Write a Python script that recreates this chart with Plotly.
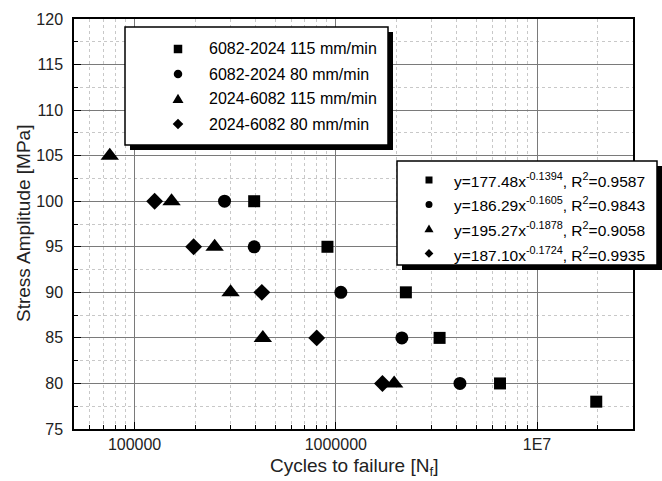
import plotly.graph_objects as go

# ---------------- data ----------------
series_names = ["6082-2024 115 mm/min", "6082-2024 80 mm/min",
                "2024-6082 115 mm/min", "2024-6082 80 mm/min"]
series_symbols = ["square", "circle", "triangle-up", "diamond"]

s1_cycles = [393000, 909000, 2230000, 3280000, 6550000, 19700000]
s1_stress = [100, 95, 90, 85, 80, 78]
s2_cycles = [280000, 393000, 1060000, 2130000, 4140000]
s2_stress = [100, 95, 90, 85, 80]
s3_cycles = [75300, 152700, 250000, 300000, 434000, 1950000]
s3_stress = [105, 100, 95, 90, 85, 80]
s4_cycles = [125800, 196600, 429000, 804000, 1706000]
s4_stress = [100, 95, 90, 85, 80]

fit_labels = [
    "y=177.48x<sup>-0.1394</sup>, R<sup>2</sup>=0.9587",
    "y=186.29x<sup>-0.1605</sup>, R<sup>2</sup>=0.9843",
    "y=195.27x<sup>-0.1878</sup>, R<sup>2</sup>=0.9058",
    "y=187.10x<sup>-0.1724</sup>, R<sup>2</sup>=0.9935",
]

x_tickvals = [1e5, 1e6, 1e7]
x_ticktext = ["100000", "1000000", "1E7"]
x_minor = [m * 10 ** e for e in range(4, 8) for m in range(2, 10)]
y_tickvals = [75, 80, 85, 90, 95, 100, 105, 110, 115, 120]

# ---------------- geometry ----------------
W, H = 662, 481
L, R, T, B = 74, 633, 19, 429
FONT = "Liberation Sans, Arial, sans-serif"


def px(x):
    return (x - L) / (R - L)


def py(y):
    return (B - y) / (B - T)


fig = go.Figure()
xs = [s1_cycles, s2_cycles, s3_cycles, s4_cycles]
ys = [s1_stress, s2_stress, s3_stress, s4_stress]
sizes = [12, 13, 16, 13]
for name, sym, x, y, s in zip(series_names, series_symbols, xs, ys, sizes):
    fig.add_trace(go.Scatter(x=x, y=y, mode="markers", name=name,
                             marker=dict(symbol=sym, size=s, color="black"),
                             cliponaxis=False, showlegend=False))

shapes = []
annotations = []


def box(x0, y0, x1, y1, off=5):
    shapes.append(dict(type="rect", xref="paper", yref="paper",
                       x0=px(x0 + off), x1=px(x1 + off), y0=py(y1 + off), y1=py(y0 + off),
                       fillcolor="black", line=dict(width=0), layer="above"))
    shapes.append(dict(type="rect", xref="paper", yref="paper",
                       x0=px(x0), x1=px(x1), y0=py(y1), y1=py(y0),
                       fillcolor="white", line=dict(color="black", width=1.5), layer="above"))


def marker(sym, cx, cy, s):
    h = s / 2
    if sym == "square":
        shapes.append(dict(type="rect", xref="paper", yref="paper",
                           x0=px(cx - h), x1=px(cx + h), y0=py(cy + h), y1=py(cy - h),
                           fillcolor="black", line=dict(width=0), layer="above"))
    elif sym == "circle":
        shapes.append(dict(type="circle", xref="paper", yref="paper",
                           x0=px(cx - h), x1=px(cx + h), y0=py(cy + h), y1=py(cy - h),
                           fillcolor="black", line=dict(width=0), layer="above"))
    else:
        if sym == "triangle-up":
            pts = [(cx, cy - h * 1.25), (cx + h * 1.3, cy + h * 0.95), (cx - h * 1.3, cy + h * 0.95)]
        else:
            pts = [(cx, cy - h * 1.25), (cx + h * 1.25, cy), (cx, cy + h * 1.25), (cx - h * 1.25, cy)]
        path = "M " + " L ".join(f"{px(a):.5f},{py(b):.5f}" for a, b in pts) + " Z"
        shapes.append(dict(type="path", xref="paper", yref="paper", path=path,
                           fillcolor="black", line=dict(width=0), layer="above"))


# legend 1
box(125, 27, 388, 145)
for i, (name, sym) in enumerate(zip(series_names, series_symbols)):
    cy = 49 + 25 * i
    marker(sym, 178, cy, 8.5)
    annotations.append(dict(x=px(207), y=py(cy), xref="paper", yref="paper", text=name,
                            showarrow=False, xanchor="left", yanchor="middle",
                            font=dict(family=FONT, size=16, color="black")))

# legend 2
box(397, 161, 657, 265)
for i, (lab, sym) in enumerate(zip(fit_labels, series_symbols)):
    cy = 180 + 24.5 * i
    marker(sym, 429, cy, 7)
    annotations.append(dict(x=px(452), y=py(cy), xref="paper", yref="paper", text=lab,
                            showarrow=False, xanchor="left", yanchor="middle",
                            font=dict(family=FONT, size=15.5, color="black")))

# axis titles
annotations.append(dict(x=0.5, y=py(467), xref="paper", yref="paper",
                        text="Cycles to failure [N<sub>f</sub>]", showarrow=False,
                        xanchor="center", yanchor="middle",
                        font=dict(family=FONT, size=19, color="#222")))
annotations.append(dict(x=px(23), y=0.5, xref="paper", yref="paper",
                        text="Stress Amplitude [MPa]", showarrow=False, textangle=-90,
                        xanchor="center", yanchor="middle",
                        font=dict(family=FONT, size=19, color="#222")))

fig.update_layout(
    width=W, height=H,
    margin=dict(l=L, r=W - R, t=T, b=H - B, pad=0),
    plot_bgcolor="white", paper_bgcolor="white",
    font=dict(family=FONT, size=16, color="#222"),
    shapes=shapes, annotations=annotations,
    xaxis=dict(type="log", range=[4.69897, 7.4771],
               tickmode="array", tickvals=x_tickvals, ticktext=x_ticktext,
               ticks="inside", ticklen=7, tickcolor="black",
               showline=True, linecolor="black", linewidth=1.5, mirror=True,
               showgrid=True, gridcolor="#7a7a7a", gridwidth=1,
               zeroline=False,
               minor=dict(tickmode="array", tickvals=x_minor, ticks="inside", ticklen=4,
                          tickcolor="black", showgrid=True, gridcolor="#c8c8c8",
                          griddash="3px,3px", gridwidth=1)),
    yaxis=dict(range=[75, 120], tickmode="array", tickvals=y_tickvals,
               ticks="inside", ticklen=7, tickcolor="black",
               showline=True, linecolor="black", linewidth=1.5, mirror=True,
               showgrid=True, gridcolor="#7a7a7a", gridwidth=1,
               zeroline=False, ticklabelstandoff=6,
               minor=dict(dtick=2.5, ticks="inside", ticklen=4, tickcolor="black",
                          showgrid=True, gridcolor="#c8c8c8", griddash="3px,3px", gridwidth=1)),
)

fig.write_html("out.html")
